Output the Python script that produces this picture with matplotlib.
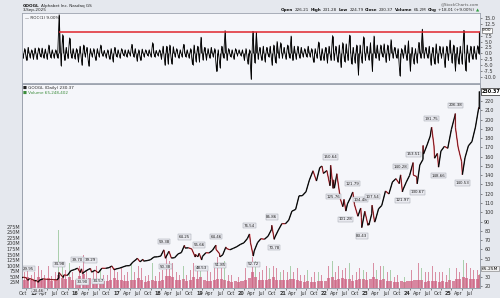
import numpy as np
import pandas as pd
import matplotlib
matplotlib.use('Agg')
import matplotlib.pyplot as plt
import matplotlib.dates as mdates
from matplotlib.collections import LineCollection
from matplotlib.transforms import ScaledTranslation

# ---------------- data ----------------
price_dates = [
    "2014-08-27", "2014-09-05", "2014-09-30", "2014-10-16", "2014-10-31", "2014-11-28", "2014-12-16", "2014-12-31",
    "2015-01-13", "2015-01-30", "2015-02-27", "2015-03-31", "2015-04-30", "2015-05-29", "2015-06-30", "2015-07-16",
    "2015-07-17", "2015-07-31", "2015-08-24", "2015-08-31", "2015-09-30", "2015-10-30", "2015-11-30", "2015-12-29",
    "2016-01-20", "2016-02-01", "2016-02-09", "2016-02-29", "2016-03-31", "2016-04-20", "2016-04-29", "2016-05-31",
    "2016-06-27", "2016-07-29", "2016-08-31", "2016-09-30", "2016-10-25", "2016-11-14", "2016-11-30", "2016-12-30",
    "2017-01-31", "2017-02-28", "2017-03-31", "2017-04-28", "2017-05-31", "2017-06-06", "2017-06-30", "2017-07-26",
    "2017-07-31", "2017-08-31", "2017-09-29", "2017-10-31", "2017-11-30", "2017-12-29", "2018-01-26", "2018-02-08",
    "2018-02-28", "2018-03-12", "2018-03-29", "2018-04-02", "2018-04-30", "2018-05-31", "2018-06-29", "2018-07-26",
    "2018-07-31", "2018-08-31", "2018-09-28", "2018-10-29", "2018-10-31", "2018-11-20", "2018-12-03", "2018-12-24",
    "2018-12-31", "2019-01-31", "2019-02-28", "2019-03-29", "2019-04-29", "2019-04-30", "2019-05-31", "2019-06-03",
    "2019-06-28", "2019-07-26", "2019-07-31", "2019-08-30", "2019-09-30", "2019-10-31", "2019-11-29", "2019-12-31",
    "2020-01-31", "2020-02-19", "2020-02-28", "2020-03-23", "2020-03-31", "2020-04-30", "2020-05-29", "2020-06-30",
    "2020-07-31", "2020-08-31", "2020-09-02", "2020-09-23", "2020-09-30", "2020-10-30", "2020-11-30", "2020-12-31",
    "2021-01-29", "2021-02-26", "2021-03-31", "2021-04-30", "2021-05-28", "2021-06-30", "2021-07-30", "2021-08-31",
    "2021-09-30", "2021-10-29", "2021-11-18", "2021-11-30", "2021-12-31", "2022-01-27", "2022-01-31", "2022-02-02",
    "2022-02-24", "2022-02-28", "2022-03-07", "2022-03-29", "2022-03-31", "2022-04-29", "2022-05-20", "2022-05-31",
    "2022-06-16", "2022-06-30", "2022-07-29", "2022-08-16", "2022-08-31", "2022-09-30", "2022-10-25", "2022-10-31",
    "2022-11-03", "2022-11-30", "2022-12-28", "2022-12-30", "2023-01-05", "2023-01-31", "2023-02-02", "2023-02-24",
    "2023-02-28", "2023-03-31", "2023-04-28", "2023-05-31", "2023-06-30", "2023-07-31", "2023-08-31", "2023-09-29",
    "2023-10-11", "2023-10-27", "2023-10-31", "2023-11-30", "2023-12-29", "2024-01-29", "2024-01-31", "2024-02-29",
    "2024-03-05", "2024-03-28", "2024-04-25", "2024-04-26", "2024-04-30", "2024-05-31", "2024-06-28", "2024-07-10",
    "2024-07-31", "2024-08-05", "2024-08-30", "2024-09-09", "2024-09-30", "2024-10-31", "2024-11-29", "2024-12-31",
    "2025-01-31", "2025-02-04", "2025-02-05", "2025-02-28", "2025-03-31", "2025-04-07", "2025-04-30", "2025-05-30",
    "2025-06-30", "2025-07-31", "2025-08-29", "2025-09-02", "2025-09-03",
]
price_vals = [
    29.3, 29.95, 29.4, 26.6, 28.4, 27.4, 25.9, 26.5,
    24.46, 26.9, 28.1, 27.7, 27.4, 27.3, 27.0, 29.0,
    34.98, 32.9, 29.6, 32.4, 31.9, 36.9, 38.1, 39.70,
    34.9, 38.9, 33.90, 35.9, 38.2, 39.29, 35.4, 37.4,
    34.57, 39.6, 39.5, 40.2, 42.0, 37.9, 38.8, 39.6,
    41.0, 42.2, 42.4, 46.2, 49.4, 50.4, 46.5, 49.2,
    47.3, 47.8, 48.7, 51.7, 51.9, 52.7, 59.38, 50.38,
    55.2, 57.9, 51.9, 50.6, 50.9, 55.0, 56.5, 64.25,
    61.4, 61.6, 60.4, 51.7, 54.5, 51.9, 55.66, 48.53,
    52.2, 56.3, 56.1, 58.8, 64.46, 59.9, 55.3, 51.85,
    54.1, 62.5, 60.9, 59.5, 61.1, 62.9, 65.2, 67.0,
    71.6, 76.54, 67.0, 52.72, 58.1, 67.3, 71.4, 70.9,
    74.2, 81.5, 85.86, 70.78, 73.3, 80.8, 87.7, 87.6,
    91.4, 101.1, 103.1, 117.7, 117.8, 122.1, 134.7, 144.7,
    133.7, 148.0, 149.8, 141.9, 144.9, 128.6, 135.3, 150.64,
    125.76, 134.9, 126.0, 141.5, 139.1, 114.1, 106.0, 113.8,
    101.28, 109.0, 116.3, 121.79, 108.2, 95.7, 104.48, 94.5,
    83.43, 101.0, 85.9, 88.2, 86.2, 98.8, 107.54, 89.4,
    90.1, 103.7, 107.3, 122.9, 119.7, 132.6, 136.2, 130.9,
    140.28, 121.97, 124.1, 132.5, 139.7, 153.51, 140.1, 138.5,
    130.67, 150.9, 157.0, 171.95, 162.8, 172.5, 182.2, 191.75,
    171.5, 158.3, 163.4, 148.66, 165.9, 171.1, 168.95, 189.3,
    204.0, 206.38, 191.3, 170.3, 154.6, 140.53, 158.8, 171.7,
    176.2, 191.9, 212.9, 211.35, 230.37,
]
label_hi_dates = ["2014-09-05", "2015-07-17", "2015-12-29", "2016-04-20", "2018-01-26", "2018-07-26",
                  "2018-12-03", "2019-04-29", "2020-02-19", "2020-09-02", "2022-02-02", "2022-08-16",
                  "2022-10-25", "2023-02-02", "2023-10-11", "2024-01-29", "2024-07-10", "2025-02-04"]
label_lo_dates = ["2015-01-13", "2016-02-09", "2016-06-27", "2018-02-08", "2018-12-24", "2019-06-03",
                  "2020-03-23", "2020-09-23", "2022-02-24", "2022-06-16", "2022-11-03", "2023-10-27",
                  "2024-03-05", "2024-09-09", "2025-04-07"]

months = pd.date_range("2014-09-01", "2025-09-01", freq="MS")
vol_avg = [38, 48, 36, 38,
           50, 40, 36, 44, 30, 34, 60, 44, 40, 50, 36, 36,
           52, 62, 40, 46, 38, 40, 34, 30, 32, 36, 44, 34,
           34, 30, 30, 36, 34, 46, 38, 28, 30, 38, 30, 32,
           36, 54, 52, 50, 34, 34, 40, 30, 36, 50, 42, 48,
           36, 30, 32, 34, 42, 40, 36, 32, 28, 32, 26, 30,
           36, 44, 74, 50, 34, 36, 38, 42, 48, 38, 36, 34,
           36, 40, 40, 34, 30, 28, 30, 26, 28, 32, 30, 30,
           46, 50, 36, 40, 44, 40, 42, 30, 36, 40, 40, 36,
           40, 48, 40, 36, 40, 32, 30, 28, 26, 32, 28, 30,
           30, 34, 36, 34, 26, 30, 30, 32, 28, 30, 28, 34,
           30, 40, 40, 50, 44, 40, 42, 40, 58]
vol_max = [70, 90, 60, 70,
           100, 80, 60, 100, 55, 70, 258, 110, 80, 110, 70, 70,
           100, 150, 80, 120, 70, 100, 80, 60, 60, 100, 90, 70,
           90, 60, 70, 110, 70, 100, 90, 55, 60, 110, 55, 70,
           80, 140, 120, 110, 70, 60, 100, 60, 80, 110, 80, 100,
           80, 80, 70, 90, 140, 110, 120, 60, 60, 90, 50, 90,
           90, 110, 140, 120, 70, 80, 100, 90, 100, 90, 70, 80,
           70, 100, 70, 90, 60, 60, 80, 50, 70, 70, 60, 70,
           100, 120, 70, 100, 80, 90, 110, 60, 70, 90, 80, 70,
           80, 110, 80, 100, 100, 70, 80, 50, 60, 90, 50, 80,
           80, 70, 110, 90, 70, 70, 100, 70, 70, 70, 60, 90,
           80, 90, 70, 126, 110, 90, 80, 80, 65]
roc_hi = [2.0, 2.5, 1.5, 2.2,
          2.3, 2.2, 1.8, 3.5, 1.5, 1.5, 16.3, 7.9, 2.5, 6.5, 2.0, 2.0,
          3.0, 3.5, 2.5, 2.0, 2.0, 2.0, 3.5, 1.2, 1.5, 2.0, 2.5, 1.5,
          2.0, 1.5, 1.5, 3.8, 2.0, 1.5, 1.8, 1.5, 1.5, 4.5, 1.2, 1.5,
          3.0, 3.0, 3.5, 2.8, 2.0, 1.5, 3.8, 1.5, 2.0, 3.5, 3.0, 6.8,
          2.5, 2.0, 2.5, 2.0, 1.5, 3.0, 9.6, 2.0, 1.5, 2.0, 1.5, 1.5,
          2.0, 1.5, 9.3, 8.9, 2.5, 3.0, 2.5, 3.0, 3.5, 5.0, 4.5, 2.5,
          3.5, 7.3, 3.0, 3.0, 2.5, 2.0, 3.0, 2.0, 2.0, 4.8, 2.0, 2.5,
          3.0, 7.5, 3.0, 3.5, 4.5, 4.0, 7.7, 2.5, 3.5, 3.5, 7.0, 3.0,
          4.5, 7.3, 3.5, 3.5, 4.0, 3.5, 5.8, 2.5, 2.0, 2.0, 3.5, 5.3,
          2.5, 2.0, 4.6, 10.2, 2.5, 3.0, 2.5, 4.0, 3.0, 2.8, 3.0, 5.6,
          3.5, 2.5, 3.0, 9.7, 3.5, 3.0, 3.0, 3.2, 9.0]
roc_lo = [-2.0, -3.0, -1.8, -2.5,
          -2.6, -1.5, -2.0, -2.5, -1.8, -2.0, -2.0, -5.2, -3.0, -2.2, -2.0, -2.3,
          -3.5, -5.0, -1.5, -5.4, -1.5, -3.0, -1.5, -1.2, -1.8, -2.5, -3.5, -1.5,
          -2.0, -1.0, -1.5, -1.0, -1.5, -3.3, -3.0, -1.5, -1.0, -1.5, -1.5, -1.0,
          -2.5, -5.0, -4.5, -4.5, -1.5, -2.0, -1.5, -1.5, -2.0, -4.8, -3.5, -3.5,
          -2.8, -2.8, -2.0, -1.5, -7.7, -6.1, -2.0, -3.0, -1.5, -2.5, -1.0, -1.0,
          -3.0, -4.5, -11.0, -4.0, -2.5, -3.0, -3.5, -1.5, -5.0, -4.0, -2.0, -2.0,
          -2.5, -2.0, -3.0, -2.5, -2.0, -1.5, -1.5, -1.5, -3.8, -2.0, -3.0, -3.0,
          -4.0, -3.0, -3.0, -3.7, -6.0, -3.5, -3.0, -4.5, -4.0, -9.1, -4.0, -3.0,
          -2.8, -7.7, -2.0, -3.0, -1.5, -3.8, -3.0, -2.0, -2.0, -9.5, -2.0, -3.0,
          -7.5, -4.4, -4.0, -2.0, -2.0, -2.0, -5.0, -4.5, -4.0, -2.0, -6.0, -3.0,
          -4.0, -7.3, -4.5, -4.5, -7.3, -3.8, -2.5, -2.5, -0.3]
roc_level = 9.0
roc_level_start = "2015-07-17"
last_close = 230.37
last_roc = 9.00
header_left = ("GOOGL", "Alphabet Inc. Nasdaq GS")
header_date = "3-Sep-2025"
quote = [("Open", "226.21"), ("High", "231.28"), ("Low", "224.79"), ("Close", "230.37"),
         ("Volume", "65.2M"), ("Chg", "+18.01 (+9.00%)")]
volume_text = "Volume 65,248,402"
volume_box = "65.25M"

# ---------------- figure ----------------
W, H = 500, 298
fig = plt.figure(figsize=(W / 100, H / 100), dpi=100, facecolor='#E5E8EE')
BG = '#F5F6FA'
SP = '#9CA2AE'
FS = 3.5
HFS = 3.0

def fx(px):
    return px / W

def fy(py):
    return 1 - py / H

L, R = 22, 480
roc_top, roc_bot = 13.3, 83.3
pr_top, pr_bot = 84.0, 288.0

ax_roc = fig.add_axes([fx(L), fy(roc_bot), (R - L) / W, (roc_bot - roc_top) / H], facecolor=BG)
ax_vol = fig.add_axes([fx(L), fy(pr_bot), (R - L) / W, (pr_bot - pr_top) / H], facecolor=BG, sharex=ax_roc)
ax_p = fig.add_axes([fx(L), fy(pr_bot), (R - L) / W, (pr_bot - pr_top) / H], sharex=ax_roc)
ax_p.patch.set_visible(False)

pdates = pd.to_datetime(price_dates)
pnum = mdates.date2num(pdates)
mnum = mdates.date2num(months)

xmin = mdates.date2num(pd.Timestamp("2014-08-26"))
xmax = mdates.date2num(pd.Timestamp("2025-09-09"))
for a in (ax_roc, ax_vol, ax_p):
    a.set_xlim(xmin, xmax)
    for s in a.spines.values():
        s.set_color(SP)
        s.set_linewidth(0.6)

# ---- ROC panel ----
rx, ry = [], []
for i, m in enumerate(months):
    if i == len(months) - 1:
        d1, d2 = pd.Timestamp("2025-09-02"), pd.Timestamp("2025-09-03")
    else:
        d1, d2 = m + pd.Timedelta(days=4), m + pd.Timedelta(days=18)
    rx += [mdates.date2num(d1), mdates.date2num(d2)]
    ry += [roc_lo[i], roc_hi[i]]
ax_roc.vlines(rx, 0, ry, color='black', lw=0.6)
ax_roc.plot(rx, ry, color='black', lw=0.6)
ax_roc.hlines(roc_level, mdates.date2num(pd.Timestamp(roc_level_start)), xmax,
              color='#E0242C', lw=1.1, zorder=3)
ax_roc.set_ylim(-12.71, 16.95)
rt = [v for v in np.arange(-10, 15.01, 2.5) if abs(v - 10) > 0.01]
ax_roc.set_yticks(rt)
ax_roc.set_yticklabels([f"{v:.1f}" for v in rt])
ax_roc.yaxis.tick_right()
ax_roc.tick_params(axis='y', labelsize=FS, length=1.5, width=0.4, pad=1.5, colors='#333333')
ax_roc.tick_params(axis='x', bottom=False, labelbottom=False)
ax_roc.text(0.006, 0.96, "\u2014 ROC(1) 9.00%", transform=ax_roc.transAxes, fontsize=HFS,
            va='top', ha='left', color='#222222')
ax_roc.annotate(f"{last_roc:.2f}", xy=(1, last_roc + 0.8), xycoords=('axes fraction', 'data'),
                xytext=(1.5, 0), textcoords='offset points', fontsize=3.2, va='center', ha='left',
                bbox=dict(boxstyle='square,pad=0.1', fc='white', ec='#555555', lw=0.4),
                annotation_clip=False)

# ---- volume ----
w_avg = 27
w_max = 7
mx_colors = ['#6FAF6F' if roc_hi[i] > -roc_lo[i] + 1.0 else '#C23A5E' for i in range(len(months))]
vx = mnum + 14
vx[-1] = mdates.date2num(pd.Timestamp("2025-09-02"))
ax_vol.bar(vx, vol_max, width=w_max, color=mx_colors, alpha=0.55, linewidth=0)
ax_vol.bar(vx, vol_avg, width=w_avg, color='#CE6282', alpha=0.75, linewidth=0)
ax_vol.set_ylim(0, 915.2)
vt = np.arange(25, 276, 25)
ax_vol.set_yticks(vt)
ax_vol.set_yticklabels([f"{v}M" for v in vt])
ax_vol.yaxis.tick_left()
ax_vol.tick_params(axis='y', labelsize=FS, length=0, pad=1.5, colors='#333333')
ax_vol.tick_params(axis='x', bottom=False, labelbottom=False)

# ---- price ----
ax_p.set_ylim(18.27, 238.34)
pts = np.column_stack([pnum, price_vals])
segs = np.stack([pts[:-1], pts[1:]], axis=1)
seg_col = ['#E23A44' if price_vals[i + 1] < price_vals[i] else '#111111' for i in range(len(price_vals) - 1)]
ax_p.add_collection(LineCollection(segs, colors=seg_col, linewidths=0.95, zorder=3))
ax_p.plot(pnum, price_vals, color='black', lw=0.3, zorder=4)
pt = [v for v in range(20, 221, 10) if v != 40]
ax_p.set_yticks(pt)
ax_p.set_yticklabels([str(v) for v in pt])
ax_p.yaxis.tick_right()
ax_p.tick_params(axis='y', labelsize=FS, length=1.5, width=0.4, pad=1.5, colors='#333333')

lookup = dict(zip(price_dates, price_vals))
lbl_box = dict(boxstyle='square,pad=0.15', fc='#E9EAF0', ec='#A0A4AE', lw=0.35)
for j, d in enumerate(label_hi_dates):
    v = lookup[d]
    ax_p.annotate(f"{v:.2f}", xy=(mdates.date2num(pd.Timestamp(d)), v), xytext=(0, 4.6),
                  textcoords='offset points', fontsize=2.9, ha='left' if j == 0 else 'center',
                  va='bottom', bbox=lbl_box, zorder=5, color='#222222')
for d in label_lo_dates:
    v = lookup[d]
    ax_p.annotate(f"{v:.2f}", xy=(mdates.date2num(pd.Timestamp(d)), v), xytext=(0, -4.6),
                  textcoords='offset points', fontsize=2.9, ha='center', va='top',
                  bbox=lbl_box, zorder=5, color='#222222')

ax_p.annotate(f"{last_close:.2f}", xy=(1, last_close), xycoords=('axes fraction', 'data'),
              xytext=(1.5, 0), textcoords='offset points', fontsize=FS, va='center', ha='left',
              bbox=dict(boxstyle='square,pad=0.15', fc='white', ec='#222222', lw=0.5),
              annotation_clip=False, fontweight='bold')
ax_p.text(1.004, (pr_bot - 268.5) / (pr_bot - pr_top), volume_box, transform=ax_p.transAxes,
          fontsize=3.2, va='center', ha='left',
          bbox=dict(boxstyle='square,pad=0.1', fc='#F0F0F0', ec='#777777', lw=0.4))

ax_p.text(0.003, 0.988, "\u25a0 GOOGL (Daily) " + f"{last_close:.2f}", transform=ax_p.transAxes,
          fontsize=HFS, va='top', ha='left', color='#222222')
ax_p.text(0.003, 0.967, "\u25a0 " + volume_text, transform=ax_p.transAxes,
          fontsize=HFS, va='top', ha='left', color='#3C8C3C')

# x ticks
qt = pd.date_range("2014-10-01", "2025-07-01", freq="QS-JAN")
ax_p.set_xticks(mdates.date2num(qt))
labs = [(f"{d.year % 100:02d}" if d.month == 1 else d.strftime("%b")) for d in qt]
ax_p.set_xticklabels(labs)
ax_p.tick_params(axis='x', labelsize=FS, length=1.5, width=0.4, pad=1.0, colors='#333333')
off = ScaledTranslation(-3 / 100, 0, fig.dpi_scale_trans)
for lab, d in zip(ax_p.get_xticklabels(), qt):
    lab.set_transform(lab.get_transform() + off)
    if d.month == 1:
        lab.set_fontweight('bold')

# ---- header ----
renderer = fig.canvas.get_renderer()

def seq(x, y, pieces, align='left', fs=HFS, gap=1.5):
    objs = []
    widths = []
    for txt, wt, col in pieces:
        t = fig.text(0, fy(y), txt, fontsize=fs, fontweight=wt, color=col, va='center', ha='left')
        bb = t.get_window_extent(renderer)
        objs.append(t)
        widths.append(bb.width)
    total = sum(widths) + gap * (len(widths) - 1)
    cur = x if align == 'left' else x - total
    for t, w in zip(objs, widths):
        t.set_x(fx(cur))
        cur += w + gap

seq(23, 5.6, [(header_left[0], 'bold', '#111111'), (header_left[1], 'normal', '#222222')])
seq(23, 10.3, [(header_date, 'normal', '#222222')])
fig.text(fx(479), fy(4.6), "@StockCharts.com", fontsize=2.9, ha='right', va='center', color='#555555')
pieces = []
for k, v in quote:
    pieces.append((k, 'bold', '#111111'))
    pieces.append((v, 'normal', '#222222'))
pieces.append(("\u25b2", 'normal', '#2E9E3E'))
seq(479, 10.2, pieces, align='right')

fig.savefig("out.png", dpi=100, facecolor=fig.get_facecolor())
